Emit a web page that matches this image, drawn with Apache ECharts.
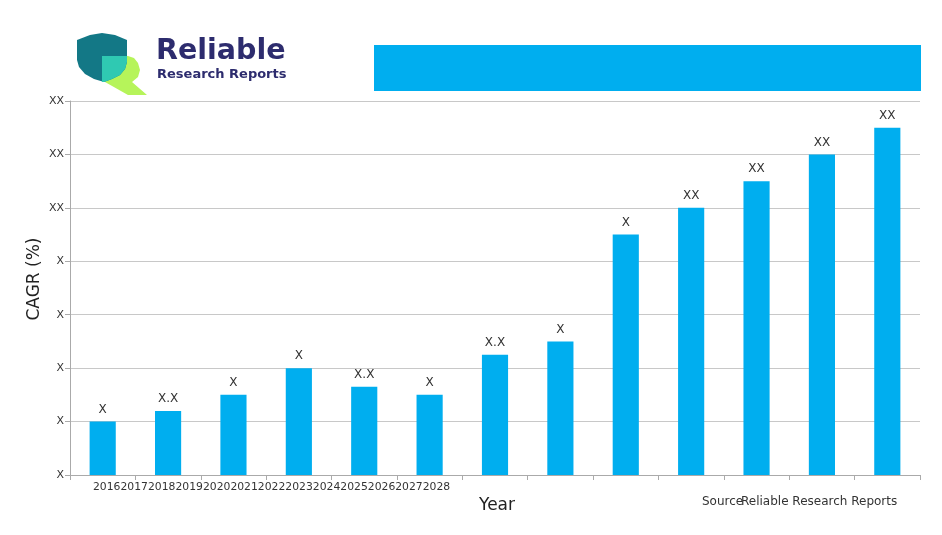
<!DOCTYPE html>
<html>
<head>
<meta charset="utf-8">
<script src="https://cdn.jsdelivr.net/npm/echarts@6/dist/echarts.min.js"></script>
<style>html,body{margin:0;padding:0;background:#fff}#c{width:942px;height:535px}</style>
</head>
<body>
<div id="c"></div>
<script>
const years = ['2016','2017','2018','2019','2020','2021','2022','2023','2024','2025','2026','2027','2028'];
const values = [1.0, 1.2, 1.5, 2.0, 1.65, 1.5, 2.25, 2.5, 4.5, 5.0, 5.5, 6.0, 6.5];
const valueLabels = ['X','X.X','X','X','X.X','X','X.X','X','X','XX','XX','XX','XX'];
const yTickLabels = ['X','X','X','X','X','XX','XX','XX'];

const chart = echarts.init(document.getElementById('c'), null, {renderer: 'canvas'});
const font = 'DejaVu Sans';
chart.setOption({
  backgroundColor: '#fff',
  animation: false,
  textStyle: {fontFamily: font},
  grid: {left: 70, right: 22, top: 101, bottom: 60, containLabel: false},
  xAxis: {
    type: 'category',
    data: years,
    axisLine: {lineStyle: {color: '#aaa', width: 1}},
    axisTick: {show: true, length: 5, lineStyle: {color: '#aaa'}},
    axisLabel: {show: false},
    splitLine: {show: false}
  },
  yAxis: {
    type: 'value',
    min: 0, max: 7, interval: 1,
    axisLine: {show: true, lineStyle: {color: '#aaa', width: 1}},
    axisTick: {show: true, length: 5, lineStyle: {color: '#aaa'}},
    axisLabel: {
      color: '#333', fontSize: 11, fontFamily: font, margin: 6,
      formatter: (v) => yTickLabels[Math.round(v)]
    },
    splitLine: {show: true, lineStyle: {color: '#c8c8c8', width: 1}}
  },
  series: [{
    type: 'bar',
    data: values,
    barWidth: '40%',
    itemStyle: {color: '#00AEEF'},
    label: {
      show: true, position: 'top', distance: 6,
      color: '#333', fontSize: 12, fontFamily: font,
      formatter: (p) => valueLabels[p.dataIndex]
    }
  }],
  graphic: [
    {type: 'rect', shape: {x: 374, y: 45, width: 547, height: 46}, style: {fill: '#00AEEF'}},
    {type: 'polygon', shape: {points: [[102,56],[128,56],[134,58],[138,63],[140,70],[138,77],[132,82],[147,95],[128,95],[105,82],[102,82]]}, style: {fill: '#b6f45a'}},
    {type: 'polygon', shape: {points: [[77,40],[90,35],[102,33],[115,35],[127,40],[127,62],[125,69],[120,75],[112,79],[104,82],[94,79],[85,74],[79,67],[77,60]]}, style: {fill: '#137886'}},
    {type: 'polygon', shape: {points: [[102,56],[127,56],[127,62],[125,69],[120,75],[112,79],[104,82],[102,82]]}, style: {fill: '#2fc9b2'}},
    {type: 'text', left: 156, top: 37, style: {text: 'Reliable', fill: '#2d2c6e', font: 'bold 28.5px "DejaVu Sans"'}},
    {type: 'text', left: 157, top: 68, style: {text: 'Research Reports', fill: '#2d2c6e', font: 'bold 13px "DejaVu Sans"'}},
    {type: 'text', left: 93, top: 482, style: {text: years.join(''), fill: '#333', font: '10.8px "DejaVu Sans"'}},
    {type: 'text', left: 479, top: 497, style: {text: 'Year', fill: '#222', font: '17px "DejaVu Sans"'}},
    {type: 'text', x: 35, y: 279, rotation: Math.PI/2, style: {text: 'CAGR (%)', fill: '#222', font: '17px "DejaVu Sans"', align: 'center', verticalAlign: 'middle'}},
    {type: 'text', left: 702, top: 496, style: {text: 'Source', fill: '#333', font: '12px "DejaVu Sans"'}},
    {type: 'text', left: 741, top: 496, style: {text: 'Reliable Research Reports', fill: '#333', font: '12px "DejaVu Sans"'}}
  ]
});
</script>
</body>
</html>
